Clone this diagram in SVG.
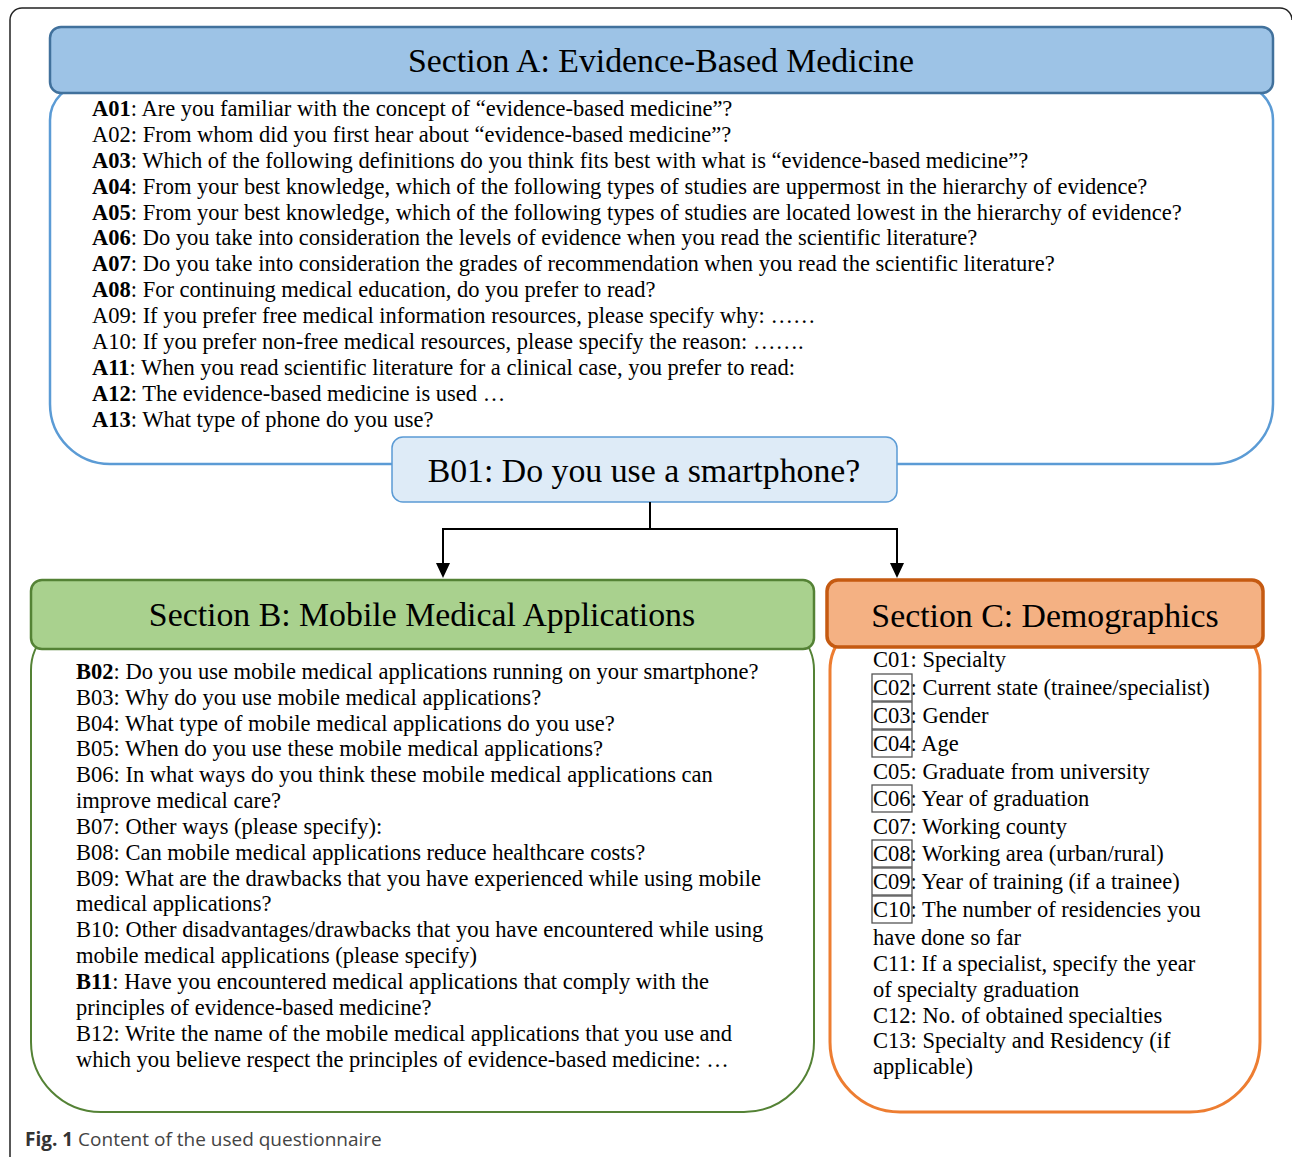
<svg xmlns="http://www.w3.org/2000/svg" width="1292" height="1157" viewBox="0 0 1292 1157">
<defs>
<style>
.t{font-family:"Liberation Serif","Times New Roman",serif;font-size:22.5px;fill:#000}
.ta{font-size:22.5px}
.h{font-family:"Liberation Serif","Times New Roman",serif;font-size:33.8px;fill:#000;text-anchor:middle}
.b{font-weight:bold}
.cap{font-family:"Open Sans","Liberation Sans",sans-serif;font-size:19px;fill:#444}
.box{fill:none;stroke:#555;stroke-width:1.3}
</style>
</defs>
<rect width="1292" height="1157" fill="#fff"/>
<path d="M10,1157 V20 A12 12 0 0 1 22,8 H1280 A12 12 0 0 1 1292,20" fill="none" stroke="#222" stroke-width="1.5"/>

<g id="sectionA">
<path d="M86,84 H1237 A36 36 0 0 1 1273,120 V404 A60 60 0 0 1 1213,464 H110 A60 60 0 0 1 50,404 V120 A36 36 0 0 1 86,84 Z" fill="#fff" stroke="#5B9BD5" stroke-width="2.5"/>
<rect x="50" y="27" width="1223" height="66" rx="11" fill="#9DC3E6" stroke="#41719C" stroke-width="2.5"/>
<text class="h" x="661" y="72">Section A: Evidence-Based Medicine</text>
<text class="t ta" x="92" y="116"><tspan class="b">A01</tspan>: Are you familiar with the concept of “evidence-based medicine”?</text>
<text class="t ta" x="92" y="142">A02: From whom did you first hear about “evidence-based medicine”?</text>
<text class="t ta" x="92" y="168"><tspan class="b">A03</tspan>: Which of the following definitions do you think fits best with what is “evidence-based medicine”?</text>
<text class="t ta" x="92" y="194"><tspan class="b">A04</tspan>: From your best knowledge, which of the following types of studies are uppermost in the hierarchy of evidence?</text>
<text class="t ta" x="92" y="220"><tspan class="b">A05</tspan>: From your best knowledge, which of the following types of studies are located lowest in the hierarchy of evidence?</text>
<text class="t ta" x="92" y="245"><tspan class="b">A06</tspan>: Do you take into consideration the levels of evidence when you read the scientific literature?</text>
<text class="t ta" x="92" y="271"><tspan class="b">A07</tspan>: Do you take into consideration the grades of recommendation when you read the scientific literature?</text>
<text class="t ta" x="92" y="297"><tspan class="b">A08</tspan>: For continuing medical education, do you prefer to read?</text>
<text class="t ta" x="92" y="323">A09: If you prefer free medical information resources, please specify why: ……</text>
<text class="t ta" x="92" y="349">A10: If you prefer non-free medical resources, please specify the reason: …….</text>
<text class="t ta" x="92" y="375"><tspan class="b">A11</tspan>: When you read scientific literature for a clinical case, you prefer to read:</text>
<text class="t ta" x="92" y="401"><tspan class="b">A12</tspan>: The evidence-based medicine is used …</text>
<text class="t ta" x="92" y="427"><tspan class="b">A13</tspan>: What type of phone do you use?</text>
</g>

<g id="b01">
<rect x="392" y="437" width="505" height="65" rx="11" fill="#DEEBF7" stroke="#5B9BD5" stroke-width="1.5"/>
<text class="h" x="644" y="482">B01: Do you use a smartphone?</text>
</g>

<g id="connectors">
<path d="M650,502 V529 M443,529 H897 M443,528 V565 M897,528 V565" fill="none" stroke="#000" stroke-width="2"/>
<polygon points="436,563 450,563 443,578" fill="#000"/>
<polygon points="890,563 904,563 897,578" fill="#000"/>
</g>

<g id="sectionB">
<path d="M81,620 H764 A50 50 0 0 1 814,670 V1042 A70 70 0 0 1 744,1112 H101 A70 70 0 0 1 31,1042 V670 A50 50 0 0 1 81,620 Z" fill="#fff" stroke="#548235" stroke-width="2"/>
<rect x="31" y="580" width="783" height="69" rx="11" fill="#A9D18E" stroke="#548235" stroke-width="2.5"/>
<text class="h" x="422" y="626">Section B: Mobile Medical Applications</text>
<text class="t" x="76" y="679"><tspan class="b">B02</tspan>: Do you use mobile medical applications running on your smartphone?</text>
<text class="t" x="76" y="705">B03: Why do you use mobile medical applications?</text>
<text class="t" x="76" y="731">B04: What type of mobile medical applications do you use?</text>
<text class="t" x="76" y="756">B05: When do you use these mobile medical applications?</text>
<text class="t" x="76" y="782">B06: In what ways do you think these mobile medical applications can</text>
<text class="t" x="76" y="808">improve medical care?</text>
<text class="t" x="76" y="834">B07: Other ways (please specify):</text>
<text class="t" x="76" y="860">B08: Can mobile medical applications reduce healthcare costs?</text>
<text class="t" x="76" y="886">B09: What are the drawbacks that you have experienced while using mobile</text>
<text class="t" x="76" y="911">medical applications?</text>
<text class="t" x="76" y="937">B10: Other disadvantages/drawbacks that you have encountered while using</text>
<text class="t" x="76" y="963">mobile medical applications (please specify)</text>
<text class="t" x="76" y="989"><tspan class="b">B11</tspan>: Have you encountered medical applications that comply with the</text>
<text class="t" x="76" y="1015">principles of evidence-based medicine?</text>
<text class="t" x="76" y="1041">B12: Write the name of the mobile medical applications that you use and</text>
<text class="t" x="76" y="1067">which you believe respect the principles of evidence-based medicine: …</text>
</g>

<g id="sectionC">
<path d="M880,620 H1210 A50 50 0 0 1 1260,670 V1042 A70 70 0 0 1 1190,1112 H900 A70 70 0 0 1 830,1042 V670 A50 50 0 0 1 880,620 Z" fill="#fff" stroke="#ED7D31" stroke-width="3"/>
<rect x="827" y="580" width="436" height="67" rx="11" fill="#F4B183" stroke="#C55A11" stroke-width="3.5"/>
<text class="h" x="1045" y="627">Section C: Demographics</text>
<text class="t" x="873" y="667">C01: Specialty</text>
<text class="t" x="873" y="695">C02: Current state (trainee/specialist)</text>
<text class="t" x="873" y="723">C03: Gender</text>
<text class="t" x="873" y="751">C04: Age</text>
<text class="t" x="873" y="779">C05: Graduate from university</text>
<text class="t" x="873" y="806">C06: Year of graduation</text>
<text class="t" x="873" y="834">C07: Working county</text>
<text class="t" x="873" y="861">C08: Working area (urban/rural)</text>
<text class="t" x="873" y="889">C09: Year of training (if a trainee)</text>
<text class="t" x="873" y="917">C10: The number of residencies you</text>
<text class="t" x="873" y="945">have done so far</text>
<text class="t" x="873" y="971">C11: If a specialist, specify the year</text>
<text class="t" x="873" y="997">of specialty graduation</text>
<text class="t" x="873" y="1023">C12: No. of obtained specialties</text>
<text class="t" x="873" y="1048">C13: Specialty and Residency (if</text>
<text class="t" x="873" y="1074">applicable)</text>
<rect class="box" x="872" y="674" width="40" height="27"/>
<rect class="box" x="872" y="702" width="40" height="27"/>
<rect class="box" x="872" y="730" width="40" height="27"/>
<rect class="box" x="872" y="785" width="40" height="27"/>
<rect class="box" x="872" y="840" width="40" height="27"/>
<rect class="box" x="872" y="868" width="40" height="27"/>
<rect class="box" x="872" y="896" width="40" height="27"/>
</g>

<g id="caption">
<text class="cap" x="25" y="1146"><tspan font-weight="bold" fill="#333">Fig. 1</tspan> Content of the used questionnaire</text>
</g>
</svg>
